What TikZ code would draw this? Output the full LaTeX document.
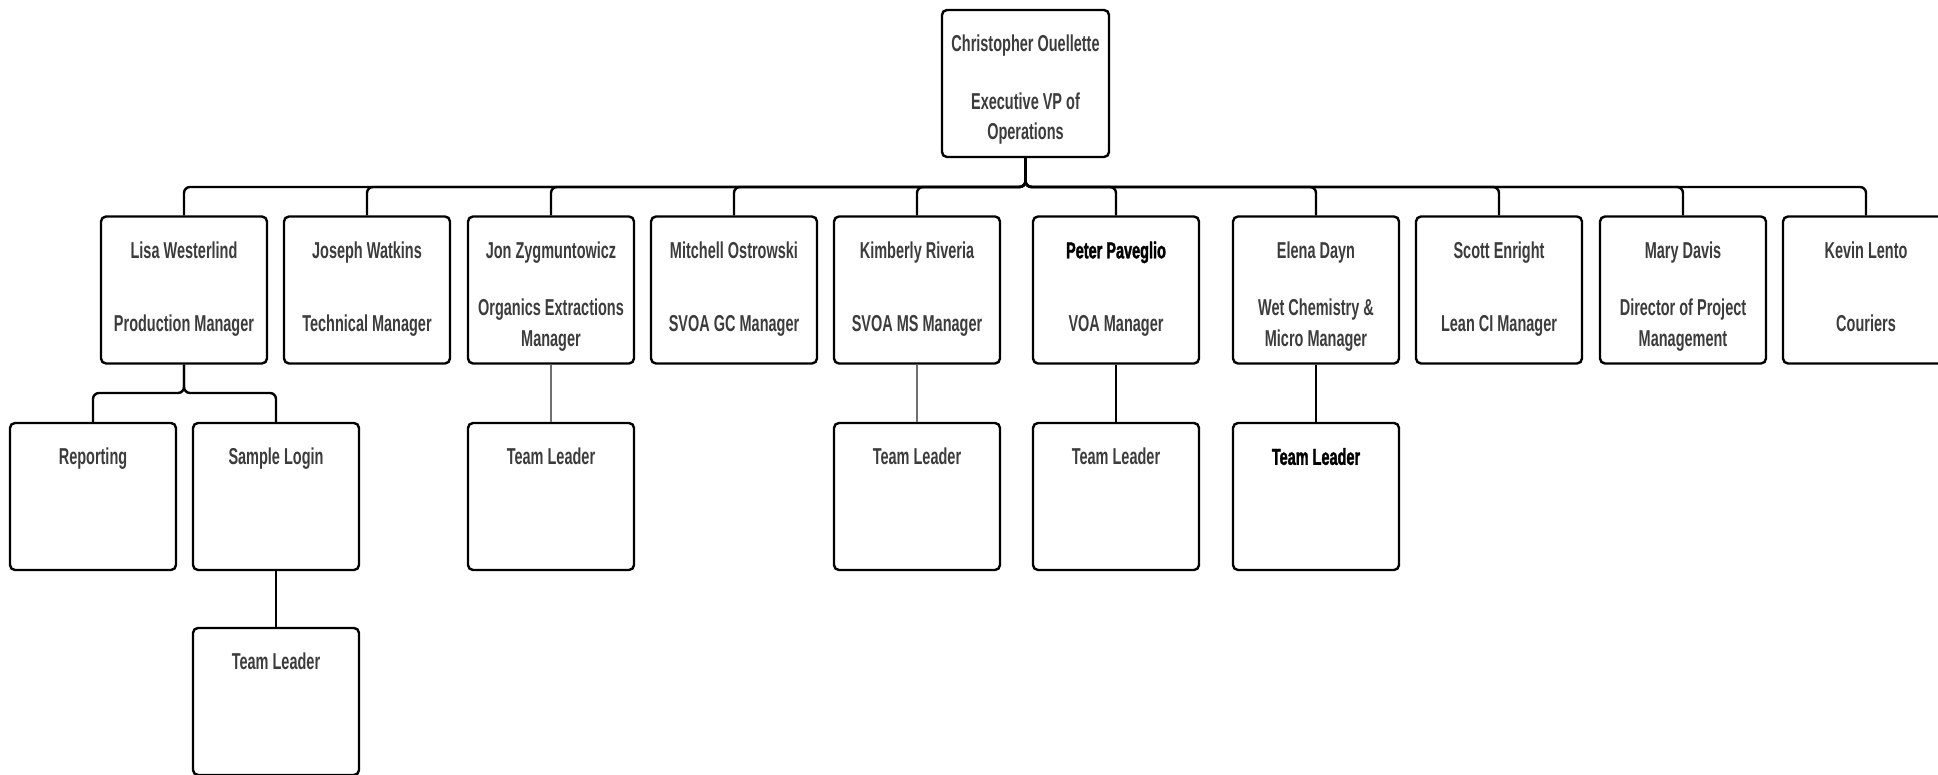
\documentclass[tikz,border=0pt]{standalone}
\usepackage{fontspec}
\setmainfont{Liberation Sans Bold}[FakeStretch=0.63]
\newfontfamily\strongfont{Liberation Sans Bold}[FakeStretch=0.63,FakeBold=1.5]
\definecolor{tcol}{HTML}{3C3C3C}
\definecolor{thin}{HTML}{707070}
\tikzset{
  box/.style={draw=black, line width=2.4pt, rounded corners=5pt, minimum width=166pt, minimum height=147pt, inner sep=0pt, fill=white},
  txt/.style={anchor=base, inner sep=0pt, text=tcol, font=\fontsize{23}{27}\selectfont},
  strongtxt/.style={anchor=base, inner sep=0pt, text=black, font=\fontsize{23}{27}\selectfont\strongfont},
  conn/.style={draw=black, line width=2.4pt, rounded corners=6pt},
  thinconn/.style={draw=thin, line width=1.4pt},
}
\newcommand{\orgtext}[3][txt]{\node[#1] at ([yshift=-#2pt]#3) }
\begin{document}
\begin{tikzpicture}[x=1pt,y=-1pt]
\useasboundingbox (0,0) rectangle (1938,775);
% boxes
\node[box, minimum width=167pt] (ceo) at (1025.5,83.5) {};
\node[box] (lisa) at (184,290) {};
\node[box] (joseph) at (367,290) {};
\node[box] (jon) at (551,290) {};
\node[box] (mitchell) at (734,290) {};
\node[box] (kim) at (917,290) {};
\node[box] (peter) at (1116,290) {};
\node[box] (elena) at (1316,290) {};
\node[box] (scott) at (1499,290) {};
\node[box] (mary) at (1683,290) {};
\node[box] (kevin) at (1866,290) {};
\node[box] (rep) at (93,496.5) {};
\node[box] (login) at (276,496.5) {};
\node[box] (tljon) at (551,496.5) {};
\node[box] (tlkim) at (917,496.5) {};
\node[box] (tlpeter) at (1116,496.5) {};
\node[box] (tlelena) at (1316,496.5) {};
\node[box] (tllogin) at (276,701.5) {};
% buses
\coordinate (bus) at (0,187);
\coordinate (subbus) at (0,393);
\foreach \c in {lisa,joseph,jon,mitchell,kim,peter,elena,scott,mary,kevin}{
  \draw[conn] (ceo.south) -- (ceo.south |- bus) -| (\c.north);
}
\foreach \c in {rep,login}{
  \draw[conn] (lisa.south) -- (lisa.south |- subbus) -| (\c.north);
}
\draw[conn] (login.south) -- (tllogin.north);
\draw[conn] (peter.south) -- (tlpeter.north);
\draw[conn] (elena.south) -- (tlelena.north);
\draw[thinconn] (jon.south) -- (tljon.north);
\draw[thinconn] (kim.south) -- (tlkim.north);
% texts
\orgtext{43}{ceo.north} {Christopher Ouellette};
\orgtext{101}{ceo.north} {Executive VP of};
\orgtext{131}{ceo.north} {Operations};
\orgtext{43}{lisa.north} {Lisa Westerlind};
\orgtext{116}{lisa.north} {Production Manager};
\orgtext{43}{joseph.north} {Joseph Watkins};
\orgtext{116}{joseph.north} {Technical Manager};
\orgtext{43}{jon.north} {Jon Zygmuntowicz};
\orgtext{100}{jon.north} {Organics Extractions};
\orgtext{131}{jon.north} {Manager};
\orgtext{43}{mitchell.north} {Mitchell Ostrowski};
\orgtext{116}{mitchell.north} {SVOA GC Manager};
\orgtext{43}{kim.north} {Kimberly Riveria};
\orgtext{116}{kim.north} {SVOA MS Manager};
\orgtext[strongtxt]{43}{peter.north} {Peter Paveglio};
\orgtext{116}{peter.north} {VOA Manager};
\orgtext{43}{elena.north} {Elena Dayn};
\orgtext{100}{elena.north} {Wet Chemistry \&};
\orgtext{131}{elena.north} {Micro Manager};
\orgtext{43}{scott.north} {Scott Enright};
\orgtext{116}{scott.north} {Lean CI Manager};
\orgtext{43}{mary.north} {Mary Davis};
\orgtext{100}{mary.north} {Director of Project};
\orgtext{131}{mary.north} {Management};
\orgtext{43}{kevin.north} {Kevin Lento};
\orgtext{116}{kevin.north} {Couriers};
\orgtext{43}{rep.north} {Reporting};
\orgtext{43}{login.north} {Sample Login};
\orgtext{43}{tljon.north} {Team Leader};
\orgtext{43}{tlkim.north} {Team Leader};
\orgtext{43}{tlpeter.north} {Team Leader};
\orgtext[strongtxt]{43}{tlelena.north} {Team Leader};
\orgtext{43}{tllogin.north} {Team Leader};
\end{tikzpicture}
\end{document}
